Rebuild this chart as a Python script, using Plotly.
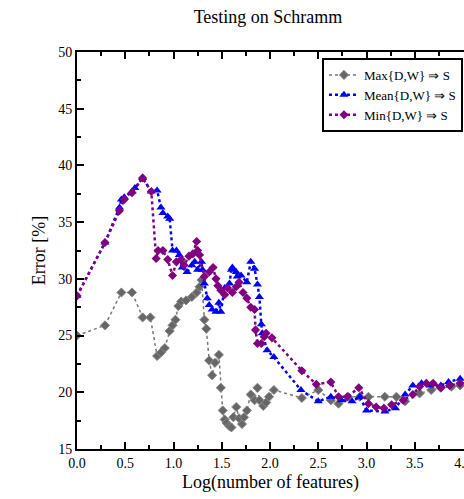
import plotly.graph_objects as go

max_x = [0.0, 0.29, 0.46, 0.57, 0.68, 0.76, 0.83, 0.87, 0.91, 0.96, 0.99, 1.02, 1.05, 1.08, 1.13, 1.19, 1.24, 1.27, 1.29,
         1.32, 1.34, 1.37, 1.40, 1.43, 1.47, 1.49, 1.51, 1.53, 1.55, 1.58, 1.60, 1.62, 1.65, 1.68, 1.71, 1.73, 1.76,
         1.80, 1.84, 1.87, 1.89, 1.93, 1.96, 1.99, 2.04, 2.33, 2.50, 2.63, 2.71, 2.81, 2.93, 3.02, 3.19, 3.31, 3.40,
         3.55, 3.67, 3.77, 3.88, 3.97]
max_y = [25.0, 25.9, 28.8, 28.8, 26.6, 26.6, 23.2, 23.5, 23.9, 25.4, 25.9, 26.4, 27.6, 28.0, 28.1, 28.4, 28.8, 29.3, 29.9,
         26.4, 25.6, 22.8, 21.5, 22.6, 23.3, 20.4, 18.4, 17.6, 17.3, 17.0, 16.9, 17.8, 18.7, 17.7, 17.2, 17.8, 18.4,
         19.8, 19.3, 20.4, 19.3, 18.8, 19.1, 19.6, 20.2, 19.5, 20.2, 19.3, 19.0, 19.6, 19.6, 19.6, 19.6, 19.6, 19.2,
         19.9, 20.2, 20.4, 20.5, 20.6]

mean_x = [0.0, 0.29, 0.44, 0.46, 0.49, 0.57, 0.60, 0.68, 0.77, 0.83, 0.87, 0.89, 0.94, 0.96, 0.99, 1.03, 1.06, 1.09,
          1.14, 1.19, 1.22, 1.25, 1.29, 1.30, 1.32, 1.35, 1.37, 1.40, 1.44, 1.47, 1.49, 1.53, 1.58, 1.60, 1.61, 1.65,
          1.66, 1.70, 1.76, 1.80, 1.84, 1.87, 1.89, 1.91, 1.92, 1.97, 2.04, 2.32, 2.50, 2.63, 2.74, 2.85, 2.93, 3.00,
          3.19, 3.30, 3.40, 3.48, 3.57, 3.66, 3.77, 3.85, 3.97]
mean_y = [28.5, 33.2, 36.3, 37.0, 37.2, 37.7, 38.0, 38.9, 37.7, 37.8, 36.3, 35.8, 35.5, 35.3, 32.5, 32.5, 32.1, 31.0,
          30.6, 31.2, 31.5, 30.8, 31.5, 30.8, 29.6, 28.3, 27.7, 27.3, 27.1, 27.9, 27.1, 29.2, 29.6, 30.8, 31.0, 30.6,
          30.2, 30.3, 29.7, 31.5, 30.9, 29.5, 28.4, 26.0, 25.2, 23.7, 23.1, 20.2, 19.2, 19.6, 19.3, 19.2, 19.6, 18.4,
          18.3, 18.6, 19.8, 20.6, 20.8, 20.6, 20.6, 20.9, 21.2]

min_x = [0.0, 0.29, 0.44, 0.49, 0.57, 0.68, 0.77, 0.82, 0.84, 0.89, 0.94, 0.99, 1.03, 1.08, 1.11, 1.16, 1.20, 1.24,
         1.25, 1.27, 1.32, 1.37, 1.41, 1.44, 1.46, 1.49, 1.53, 1.56, 1.61, 1.65, 1.68, 1.72, 1.76, 1.80, 1.84, 1.85,
         1.87, 1.91, 1.94, 1.96, 2.02, 2.33, 2.48, 2.63, 2.71, 2.80, 2.92, 3.02, 3.10, 3.18, 3.26, 3.38, 3.48, 3.55,
         3.62, 3.69, 3.77, 3.86, 3.97]
min_y = [28.5, 33.2, 36.0, 37.0, 37.6, 38.9, 37.7, 31.8, 32.5, 32.5, 31.7, 30.3, 31.5, 31.7, 31.2, 32.0, 32.2, 33.3,
         32.5, 32.1, 30.2, 30.6, 31.0, 30.0, 29.4, 29.0, 28.6, 29.2, 28.8, 29.3, 29.7, 28.8, 28.3, 27.5, 27.3, 25.5,
         24.3, 24.3, 24.9, 25.2, 24.8, 21.9, 20.7, 20.9, 19.6, 19.6, 20.4, 19.0, 18.7, 18.6, 18.9, 19.3, 19.8, 20.5,
         20.8, 20.8, 20.4, 20.6, 20.8]

names = ["Max{D,W} \u21d2 S", "Mean{D,W} \u21d2 S", "Min{D,W} \u21d2 S"]

FONT = "Liberation Serif, Times New Roman, serif"

fig = go.Figure()
fig.add_trace(go.Scatter(x=max_x, y=max_y, name=names[0], mode="lines+markers",
                         line=dict(color="#777777", width=1.5, dash="3px,3px"),
                         marker=dict(symbol="diamond", size=7, color="#666666",
                                     line=dict(color="#888888", width=1))))
fig.add_trace(go.Scatter(x=mean_x, y=mean_y, name=names[1], mode="lines+markers",
                         line=dict(color="#0000ff", width=2.5, dash="dot"),
                         marker=dict(symbol="triangle-up", size=8, color="#0000ff")))
fig.add_trace(go.Scatter(x=min_x, y=min_y, name=names[2], mode="lines+markers",
                         line=dict(color="#800080", width=2.5, dash="dot"),
                         marker=dict(symbol="diamond", size=7, color="#800080")))

axis_common = dict(showline=True, linecolor="black", linewidth=2, ticks="inside", ticklen=7,
                   tickwidth=2, tickcolor="black", showgrid=False, zeroline=False,
                   ticklabeloverflow="allow",
                   tickfont=dict(family=FONT, size=14, color="black"))

fig.update_xaxes(range=[0, 4.01], dtick=0.5, tick0=0, tickformat=".1f", mirror="ticks",
                 minor=dict(ticks="inside", ticklen=4, tickwidth=1.5, tickcolor="black", dtick=0.25, showgrid=False),
                 title=dict(text="Log(number of features)", font=dict(family=FONT, size=18, color="black"), standoff=6),
                 **axis_common)
fig.update_yaxes(range=[15, 50], dtick=5, tick0=15, mirror=False,
                 minor=dict(ticks="inside", ticklen=4, tickwidth=1.5, tickcolor="black", dtick=2.5, showgrid=False),
                 title=dict(text="Error [%]", font=dict(family=FONT, size=18, color="black"), standoff=8),
                 **axis_common)

fig.update_layout(
    width=464, height=499,
    margin=dict(l=77, r=0, t=52, b=50, autoexpand=False),
    plot_bgcolor="white", paper_bgcolor="white",
    title=dict(text="Testing on Schramm", x=268 / 464, xanchor="center", y=1 - 17 / 499, yanchor="middle",
               font=dict(family=FONT, size=18, color="black")),
    legend=dict(x=0.633, y=0.985, xanchor="left", yanchor="top", bgcolor="white",
                bordercolor="black", borderwidth=2, font=dict(family=FONT, size=13, color="black"),
                tracegroupgap=0, itemwidth=30),
    showlegend=True,
)

fig.write_html("out.html")
